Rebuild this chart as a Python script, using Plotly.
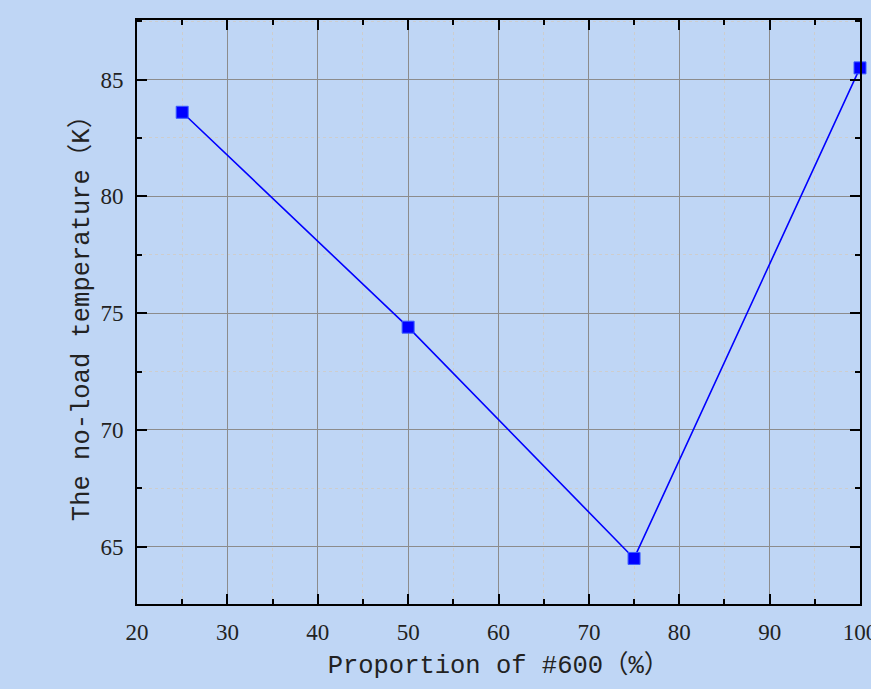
import plotly.graph_objects as go

proportion = [25, 50, 75, 100]
temperature = [83.6, 74.4, 64.5, 85.5]

x_ticks = [20, 30, 40, 50, 60, 70, 80, 90, 100]
y_ticks = [65, 70, 75, 80, 85]

bg = "rgb(191,214,245)"
mono = "Liberation Mono, Noto Sans CJK SC, monospace"
serif = "Liberation Serif, serif"

fig = go.Figure()
fig.add_trace(go.Scatter(
    x=proportion, y=temperature, mode="lines+markers",
    line=dict(color="#0000ff", width=1.6),
    marker=dict(symbol="square", size=12, color="#0000ff",
                line=dict(color="#3a5cff", width=1)),
    cliponaxis=False, showlegend=False,
))

axis_common = dict(
    showline=True, linecolor="black", linewidth=2, mirror="ticks",
    ticks="inside", ticklen=10, tickwidth=2, tickcolor="black",
    showgrid=True, gridcolor="rgb(140,140,140)", gridwidth=1,
    zeroline=False, ticklabeloverflow="allow", automargin=False,
    tickfont=dict(family=serif, size=23, color="#222"),
)

fig.update_xaxes(
    **axis_common,
    range=[20, 100], tickvals=x_ticks, ticklabelstandoff=6,
    minor=dict(dtick=5, tick0=20, ticks="inside", ticklen=5, tickwidth=2,
               tickcolor="black", showgrid=True,
               gridcolor="rgb(205,205,205)", griddash="dot", gridwidth=1),
    title=dict(text="Proportion of #600（%）",
               font=dict(family=mono, size=25.5, color="#222"), standoff=12),
)
fig.update_yaxes(
    **axis_common,
    range=[62.55, 87.55], tickvals=y_ticks, ticklabelstandoff=7,
    minor=dict(dtick=2.5, tick0=62.5, ticks="inside", ticklen=5, tickwidth=2,
               tickcolor="black", showgrid=True,
               gridcolor="rgb(205,205,205)", griddash="dot", gridwidth=1),
    title=dict(text="The no-load temperature（K）",
               font=dict(family=mono, size=25.5, color="#222"), standoff=3),
)

fig.update_layout(
    width=871, height=689, autosize=False,
    margin=dict(l=137, r=11, t=20, b=85),
    paper_bgcolor=bg, plot_bgcolor=bg,
)

fig.write_html("out.html", config={"displayModeBar": False},
               post_script="document.body.style.margin='0';document.body.style.background='rgb(191,214,245)';")
